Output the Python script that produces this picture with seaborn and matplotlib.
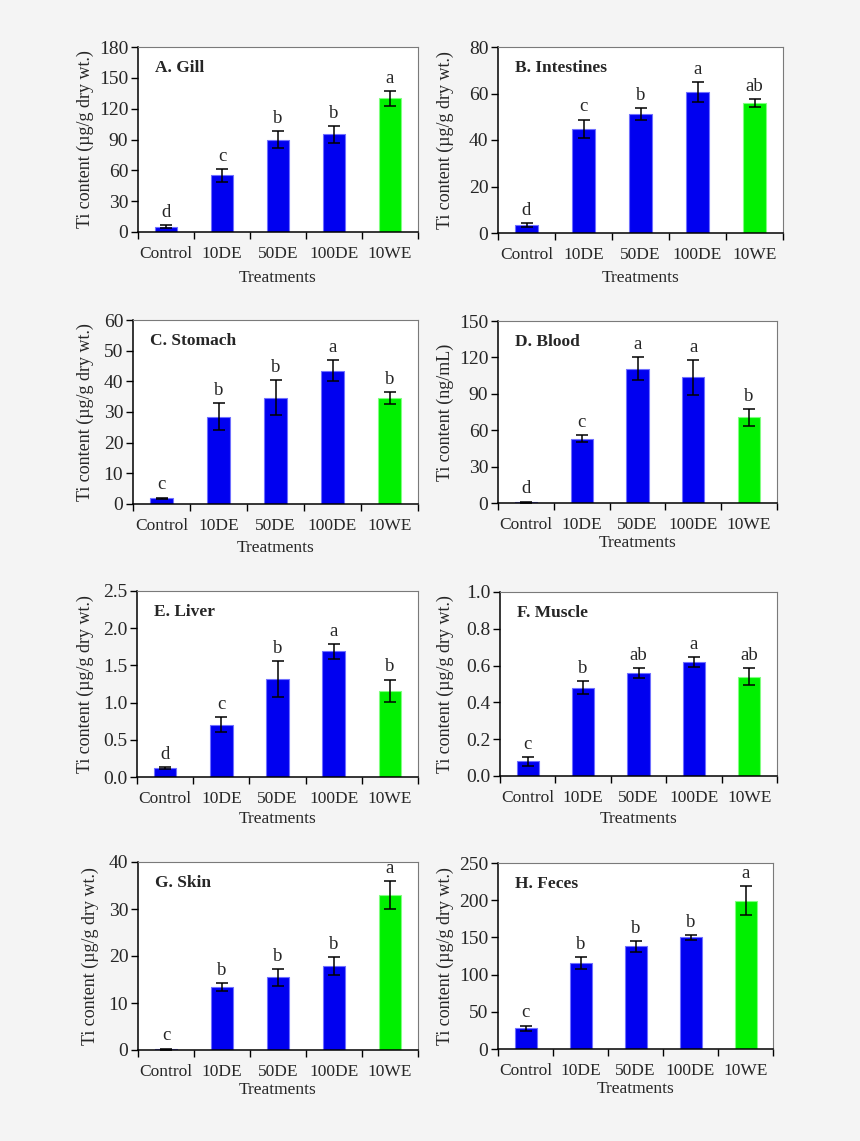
import matplotlib
matplotlib.use("Agg")
import matplotlib.pyplot as plt
import pandas as pd
import seaborn as sns

treatments = ["Control", "10DE", "50DE", "100DE", "10WE"]
bar_colors = ["#0000f0", "#0000f0", "#0000f0", "#0000f0", "#00f000"]
edge_colors = ["#7070ff", "#7070ff", "#7070ff", "#7070ff", "#80ff80"]

titles = ["A. Gill", "B. Intestines", "C. Stomach", "D. Blood",
          "E. Liver", "F. Muscle", "G. Skin", "H. Feces"]

gill = [5.0, 55.0, 90.0, 95.0, 130.0]
gill_err = [1.5, 6.0, 8.0, 8.0, 7.0]
gill_letters = ["d", "c", "b", "b", "a"]

intestines = [3.3, 44.8, 51.3, 60.7, 56.0]
intestines_err = [0.8, 4.0, 2.5, 4.2, 1.7]
intestines_letters = ["d", "c", "b", "a", "ab"]

stomach = [1.8, 28.5, 34.7, 43.5, 34.5]
stomach_err = [0.3, 4.5, 5.8, 3.3, 2.0]
stomach_letters = ["c", "b", "b", "a", "b"]

blood = [0.8, 53.0, 110.5, 103.5, 70.5]
blood_err = [0.4, 3.0, 9.5, 14.5, 7.0]
blood_letters = ["d", "c", "a", "a", "b"]

liver = [0.12, 0.70, 1.32, 1.69, 1.16]
liver_err = [0.01, 0.10, 0.24, 0.10, 0.15]
liver_letters = ["d", "c", "b", "a", "b"]

muscle = [0.08, 0.48, 0.56, 0.62, 0.54]
muscle_err = [0.025, 0.037, 0.025, 0.027, 0.045]
muscle_letters = ["c", "b", "ab", "a", "ab"]

skin = [0.2, 13.4, 15.5, 17.8, 33.0]
skin_err = [0.1, 0.8, 1.8, 1.9, 3.0]
skin_letters = ["c", "b", "b", "b", "a"]

feces = [28.0, 115.0, 138.0, 150.0, 199.5]
feces_err = [3.5, 8.0, 7.5, 3.0, 19.0]
feces_letters = ["c", "b", "b", "b", "a"]

ylabels = ["Ti content (µg/g dry wt.)"] * 8
ylabels[3] = "Ti content (ng/mL)"

yticks = [
    [0, 30, 60, 90, 120, 150, 180],
    [0, 20, 40, 60, 80],
    [0, 10, 20, 30, 40, 50, 60],
    [0, 30, 60, 90, 120, 150],
    [0.0, 0.5, 1.0, 1.5, 2.0, 2.5],
    [0.0, 0.2, 0.4, 0.6, 0.8, 1.0],
    [0, 10, 20, 30, 40],
    [0, 50, 100, 150, 200, 250],
]
ytick_fmt = ["{:.0f}"] * 4 + ["{:.1f}", "{:.1f}", "{:.0f}", "{:.0f}"]

means = [gill, intestines, stomach, blood, liver, muscle, skin, feces]
errs = [gill_err, intestines_err, stomach_err, blood_err,
        liver_err, muscle_err, skin_err, feces_err]
letters = [gill_letters, intestines_letters, stomach_letters, blood_letters,
           liver_letters, muscle_letters, skin_letters, feces_letters]

# axes boxes in pixels: left, right, top, bottom
boxes = [
    (138, 418, 47, 232), (498, 783, 47, 233),
    (133, 418, 320, 504), (498, 777, 321, 503),
    (137, 418, 591, 777), (500, 777, 592, 776),
    (138, 418, 862, 1050), (498, 773, 863, 1049),
]
# distance (px) from the axes to the centre of the axis titles
xlabel_dist = [46, 45, 44, 40, 42, 43, 40, 40]
ylabel_dist = [53, 53, 48, 53, 52, 55, 48, 53]

sns.set_style("white")
plt.rcParams['font.family'] = ['Liberation Serif', 'DejaVu Serif']

W, H = 860, 1141
fig = plt.figure(figsize=(W / 100, H / 100), dpi=100, facecolor="#f4f4f4")

for i in range(8):
    l, r, t, b = boxes[i]
    ax = fig.add_axes([l / W, 1 - b / H, (r - l) / W, (b - t) / H])
    ax.set_facecolor("white")

    df = pd.DataFrame({"Treatment": treatments, "Value": means[i]})
    sns.barplot(data=df, x="Treatment", y="Value", hue="Treatment",
                palette=bar_colors, legend=False, width=0.4,
                saturation=1, linewidth=0.8, ax=ax)
    for patch, ec in zip(ax.patches, edge_colors):
        patch.set_edgecolor(ec)
    ax.errorbar(range(5), means[i], yerr=errs[i], fmt="none",
                ecolor="black", elinewidth=1.1, capsize=4, capthick=1.1)

    for j in range(5):
        top = means[i][j] + errs[i][j]
        ax.annotate(letters[i][j], (j, top), xytext=(0, 3),
                    textcoords="offset points", ha="center", va="bottom",
                    fontsize=13.5)

    ax.set_xlim(-0.5, 4.5)
    ax.set_ylim(yticks[i][0], yticks[i][-1])
    ax.set_yticks(yticks[i])
    ax.set_yticklabels([ytick_fmt[i].format(v) for v in yticks[i]], fontsize=14)

    # tick marks between categories, labels at category centres
    ax.set_xticks([k - 0.5 for k in range(6)])
    ax.set_xticklabels([])
    ax.set_xticks(range(5), minor=True)
    ax.set_xticklabels(treatments, minor=True, fontsize=12.5)
    ax.tick_params(axis="x", which="major", direction="out", length=5,
                   width=1, color="black", bottom=True)
    ax.tick_params(axis="x", which="minor", length=0, pad=10)
    ax.tick_params(axis="y", direction="out", length=5, width=1,
                   color="black", left=True, pad=2)

    ax.set_xlabel("Treatments", fontsize=12.5, va="center")
    ax.xaxis.set_label_coords(0.5, -xlabel_dist[i] / (b - t))
    ax.set_ylabel(ylabels[i], fontsize=13, va="center")
    ax.yaxis.set_label_coords(-ylabel_dist[i] / (r - l), 0.5)

    for side in ["left", "bottom"]:
        ax.spines[side].set_color("black")
        ax.spines[side].set_linewidth(1.1)
    for side in ["top", "right"]:
        ax.spines[side].set_color("#7a7a7a")
        ax.spines[side].set_linewidth(0.8)

    ax.text(17 / (r - l), 1 - 21 / (b - t), titles[i], transform=ax.transAxes,
            fontsize=12.5, fontweight="bold", ha="left", va="center")

fig.savefig("out.png", dpi=100, facecolor=fig.get_facecolor())
